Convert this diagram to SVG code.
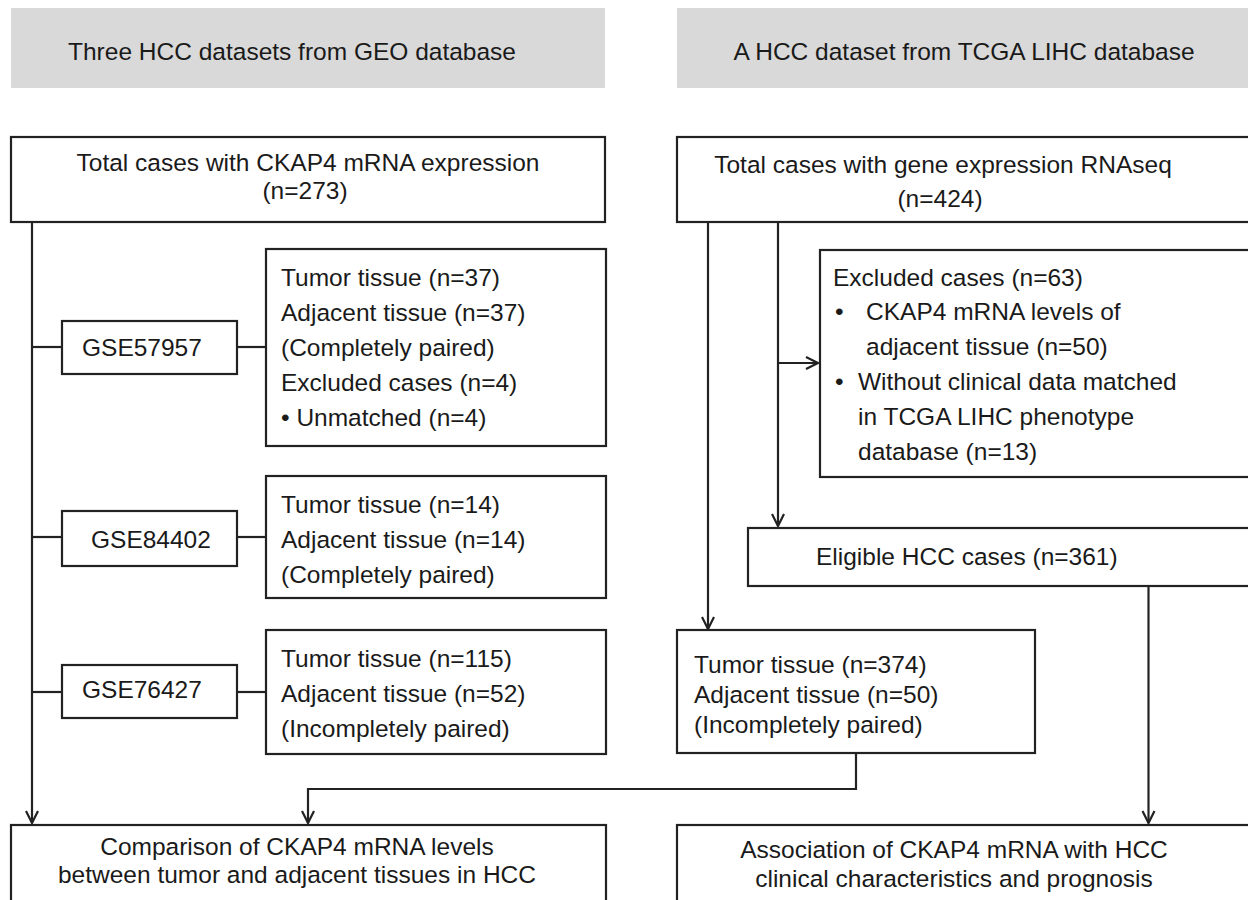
<svg xmlns="http://www.w3.org/2000/svg" width="1248" height="900" viewBox="0 0 1248 900">
<style>
.hdr{fill:#d9d9d9;stroke:none}
.box{fill:#fff;stroke:#222;stroke-width:2.2}
.t{font-family:"Liberation Sans",Arial,Helvetica,sans-serif;font-size:24.5px;fill:#1a1a1a}
.c{text-anchor:middle}
.ln{fill:none;stroke:#222;stroke-width:2.2}
</style>
<defs>
<marker id="arr" markerUnits="userSpaceOnUse" markerWidth="16" markerHeight="16" refX="14" refY="8" orient="auto" overflow="visible">
<path d="M2,2 L14,8 L2,14" fill="none" stroke="#222" stroke-width="2.2"/>
</marker>
</defs>
<rect width="1248" height="900" fill="#fff"/>

<g id="header-geo">
<rect class="hdr" x="11" y="8" width="594" height="80"/>
<text class="t c" x="292" y="60">Three HCC datasets from GEO database</text>
</g>
<g id="header-tcga">
<rect class="hdr" x="677" y="8" width="600" height="80"/>
<text class="t c" x="964" y="60">A HCC dataset from TCGA LIHC database</text>
</g>

<g id="connectors">
<path class="ln" d="M32,222 V823" marker-end="url(#arr)"/>
<path class="ln" d="M32,347 H62"/>
<path class="ln" d="M237,347 H266"/>
<path class="ln" d="M32,537 H62"/>
<path class="ln" d="M237,537 H266"/>
<path class="ln" d="M32,692 H62"/>
<path class="ln" d="M237,692 H266"/>
<path class="ln" d="M778,222 V526" marker-end="url(#arr)"/>
<path class="ln" d="M778,363 H818" marker-end="url(#arr)"/>
<path class="ln" d="M708,222 V629" marker-end="url(#arr)"/>
<path class="ln" d="M1148.5,586 V823" marker-end="url(#arr)"/>
<path class="ln" d="M856,753 V789 H308 V823" marker-end="url(#arr)"/>
</g>

<g id="total-geo">
<rect class="box" x="11" y="137" width="594" height="85"/>
<text class="t c" x="308" y="171">Total cases with CKAP4 mRNA expression</text>
<text class="t c" x="305" y="199">(n=273)</text>
</g>
<g id="gse57957">
<rect class="box" x="62" y="321" width="175" height="53"/>
<text class="t" x="82" y="356">GSE57957</text>
</g>
<g id="gse57957-detail">
<rect class="box" x="266" y="249" width="340" height="197"/>
<text class="t" x="281" y="286">Tumor tissue (n=37)</text>
<text class="t" x="281" y="321">Adjacent tissue (n=37)</text>
<text class="t" x="281" y="356">(Completely paired)</text>
<text class="t" x="281" y="391">Excluded cases (n=4)</text>
<text class="t" x="281" y="426">• Unmatched (n=4)</text>
</g>
<g id="gse84402">
<rect class="box" x="62" y="511" width="175" height="55"/>
<text class="t" x="91" y="548">GSE84402</text>
</g>
<g id="gse84402-detail">
<rect class="box" x="266" y="476" width="340" height="122"/>
<text class="t" x="281" y="513">Tumor tissue (n=14)</text>
<text class="t" x="281" y="548">Adjacent tissue (n=14)</text>
<text class="t" x="281" y="583">(Completely paired)</text>
</g>
<g id="gse76427">
<rect class="box" x="62" y="665" width="175" height="53"/>
<text class="t" x="82" y="698">GSE76427</text>
</g>
<g id="gse76427-detail">
<rect class="box" x="266" y="630" width="340" height="124"/>
<text class="t" x="281" y="667">Tumor tissue (n=115)</text>
<text class="t" x="281" y="702">Adjacent tissue (n=52)</text>
<text class="t" x="281" y="737">(Incompletely paired)</text>
</g>
<g id="comparison">
<rect class="box" x="11" y="825" width="595" height="100"/>
<text class="t c" x="297" y="855">Comparison of CKAP4 mRNA levels</text>
<text class="t c" x="297" y="883">between tumor and adjacent tissues in HCC</text>
</g>

<g id="total-tcga">
<rect class="box" x="677" y="137" width="600" height="85"/>
<text class="t c" x="943" y="173">Total cases with gene expression RNAseq</text>
<text class="t c" x="940" y="207">(n=424)</text>
</g>
<g id="excluded-tcga">
<rect class="box" x="820" y="250" width="450" height="227"/>
<text class="t" x="833" y="286">Excluded cases (n=63)</text>
<text class="t" x="835" y="320">•</text>
<text class="t" x="866" y="320">CKAP4 mRNA levels of</text>
<text class="t" x="866" y="355">adjacent tissue (n=50)</text>
<text class="t" x="835" y="390">•</text>
<text class="t" x="858" y="390">Without clinical data matched</text>
<text class="t" x="858" y="425">in TCGA LIHC phenotype</text>
<text class="t" x="858" y="460">database (n=13)</text>
</g>
<g id="eligible">
<rect class="box" x="748" y="528" width="520" height="58"/>
<text class="t" x="816" y="565">Eligible HCC cases (n=361)</text>
</g>
<g id="tcga-tissue">
<rect class="box" x="677" y="630" width="358" height="123"/>
<text class="t" x="694" y="673">Tumor tissue (n=374)</text>
<text class="t" x="694" y="703">Adjacent tissue (n=50)</text>
<text class="t" x="694" y="733">(Incompletely paired)</text>
</g>
<g id="association">
<rect class="box" x="677" y="825" width="600" height="100"/>
<text class="t c" x="954" y="858">Association of CKAP4 mRNA with HCC</text>
<text class="t c" x="954" y="887">clinical characteristics and prognosis</text>
</g>
</svg>
